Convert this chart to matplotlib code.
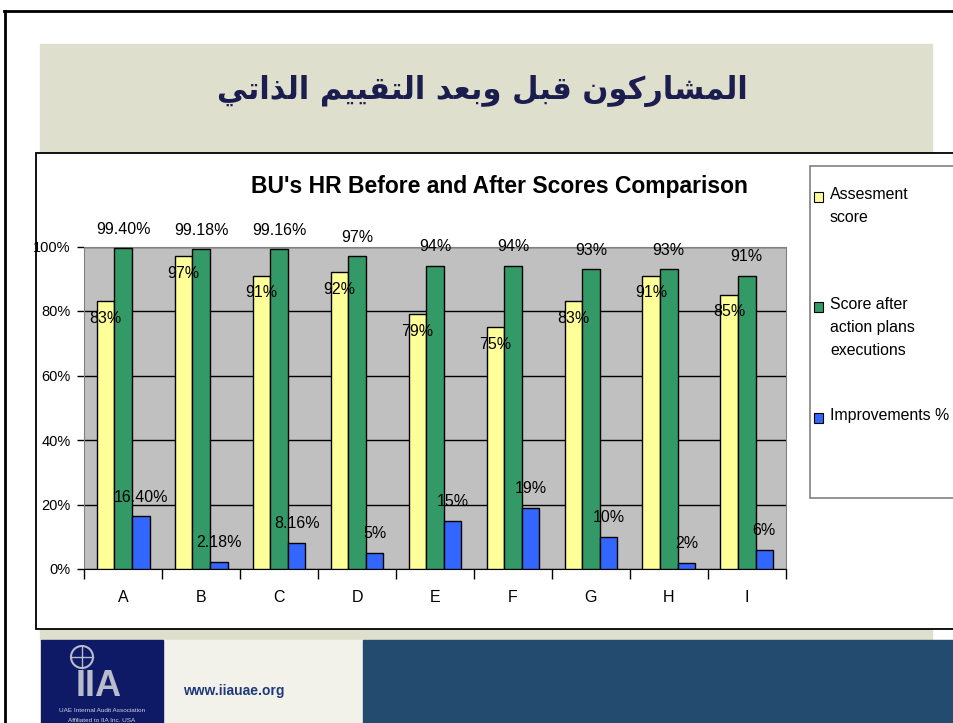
import matplotlib.pyplot as plt
from matplotlib.patches import Rectangle, Circle

# data
categories = ['A', 'B', 'C', 'D', 'E', 'F', 'G', 'H', 'I']
assessment = [83, 97, 91, 92, 79, 75, 83, 91, 85]
after_plans = [99.40, 99.18, 99.16, 97, 94, 94, 93, 93, 91]
improvements = [16.40, 2.18, 8.16, 5, 15, 19, 10, 2, 6]
series_names = ['Assesment\nscore', 'Score after\naction plans\nexecutions', 'Improvements %']
y_ticks = [0, 20, 40, 60, 80, 100]

title_ar = 'المشاركون قبل وبعد التقييم الذاتي'
chart_title = "BU's HR Before and After Scores Comparison"

colors = ['#ffff99', '#339966', '#3366ff']

# simple arabic shaping (presentation forms) since matplotlib has no shaping
FORMS = {
    'ا': ('\uFE8D', '\uFE8E', None, None),
    'ب': ('\uFE8F', '\uFE90', '\uFE91', '\uFE92'),
    'ت': ('\uFE95', '\uFE96', '\uFE97', '\uFE98'),
    'د': ('\uFEA9', '\uFEAA', None, None),
    'ذ': ('\uFEAB', '\uFEAC', None, None),
    'ر': ('\uFEAD', '\uFEAE', None, None),
    'ش': ('\uFEB5', '\uFEB6', '\uFEB7', '\uFEB8'),
    'ع': ('\uFEC9', '\uFECA', '\uFECB', '\uFECC'),
    'ق': ('\uFED5', '\uFED6', '\uFED7', '\uFED8'),
    'ك': ('\uFED9', '\uFEDA', '\uFEDB', '\uFEDC'),
    'ل': ('\uFEDD', '\uFEDE', '\uFEDF', '\uFEE0'),
    'م': ('\uFEE1', '\uFEE2', '\uFEE3', '\uFEE4'),
    'ن': ('\uFEE5', '\uFEE6', '\uFEE7', '\uFEE8'),
    'و': ('\uFEED', '\uFEEE', None, None),
    'ي': ('\uFEF1', '\uFEF2', '\uFEF3', '\uFEF4'),
}


def shape_arabic(text):
    out = []
    for i, ch in enumerate(text):
        if ch not in FORMS:
            out.append(ch)
            continue
        prev = text[i - 1] if i > 0 else None
        nxt = text[i + 1] if i + 1 < len(text) else None
        join_prev = prev in FORMS and FORMS[prev][2] is not None
        join_next = nxt in FORMS and FORMS[ch][2] is not None
        iso, fin, ini, med = FORMS[ch]
        if join_prev and join_next:
            out.append(med)
        elif join_prev:
            out.append(fin)
        elif join_next:
            out.append(ini)
        else:
            out.append(iso)
    return ''.join(out)[::-1]


plt.rcParams['font.family'] = ['Liberation Sans', 'DejaVu Sans']

W, H = 954, 723
fig = plt.figure(figsize=(W / 100, H / 100), dpi=100)

# background slide drawn in pixel coordinates
bg = fig.add_axes([0, 0, 1, 1], zorder=0)
bg.set_xlim(0, W)
bg.set_ylim(H, 0)
bg.axis('off')

bg.add_patch(Rectangle((40, 44), 892, 110, color='#dfdfcd'))
bg.add_patch(Rectangle((40, 628), 892, 12, color='#dfdfcd'))
bg.plot([4, W], [11, 11], color='black', lw=2)
bg.plot([5, 5], [11, H], color='black', lw=2)
bg.text(482, 91, shape_arabic(title_ar), ha='center', va='center',
        fontsize=22, fontweight='bold', color='#1b1d4f', family=['DejaVu Sans'])

# chart frame
bg.add_patch(Rectangle((36, 153), 930, 476, facecolor='white', edgecolor='black', lw=1.3))
bg.text(499, 187, chart_title, ha='center', va='center', fontsize=16.5, fontweight='bold')

# legend box
bg.add_patch(Rectangle((810, 166), 160, 332, facecolor='white', edgecolor='#808080', lw=1.2))
legend_y = [197, 307, 418]
for name, col, ly in zip(series_names, colors, legend_y):
    bg.add_patch(Rectangle((814, ly - 5), 9, 10, facecolor=col, edgecolor='black', lw=0.8))
    bg.text(830, ly - 10, name, ha='left', va='top', fontsize=11.4, linespacing=1.68)

# footer
bg.add_patch(Rectangle((163, 640), 200, 83, color='#f3f2ea'))
bg.add_patch(Rectangle((363, 640), 591, 83, color='#234b70'))
bg.add_patch(Rectangle((41, 640), 122, 83, color='#0e1a66'))
bg.add_patch(Circle((82, 657), 11, facecolor='none', edgecolor='#b8bccb', lw=1.5))
bg.plot([71, 93], [657, 657], color='#b8bccb', lw=1)
bg.plot([82, 82], [646, 668], color='#b8bccb', lw=1)
bg.text(99, 687, 'IIA', ha='center', va='center', fontsize=26, fontweight='bold', color='#b8bccb')
bg.text(102, 710, 'UAE Internal Audit Association', ha='center', va='center',
        fontsize=4.6, color='#d0d3e0')
bg.text(102, 720, 'Affiliated to IIA Inc. USA', ha='center', va='center',
        fontsize=4.6, color='#d0d3e0')
bg.text(183, 691, 'www.iiauae.org', ha='left', va='center', fontsize=10,
        fontweight='bold', color='#1f3a7a')

# bar chart
ax = fig.add_axes([84.3 / W, 1 - 569 / H, (785.7 - 84.3) / W, (569 - 246.5) / H], zorder=1)
ax.set_facecolor('#c0c0c0')
x = list(range(len(categories)))
width = 0.225
series = [assessment, after_plans, improvements]
offsets = [-width, 0, width]
label_offsets = [-17, 19, 19]
for vals, col, off, loff in zip(series, colors, offsets, label_offsets):
    bars = ax.bar([i + off for i in x], vals, width, color=col, edgecolor='black',
                  linewidth=1, zorder=3)
    for b, v in zip(bars, vals):
        txt = f'{v:.0f}%' if v == int(v) else f'{v:.2f}%'
        ax.annotate(txt, (b.get_x() + b.get_width() / 2, v), xytext=(0, loff),
                    textcoords='offset pixels', ha='center', va='center',
                    fontsize=11.5, zorder=4, annotation_clip=False)

ax.set_xlim(-0.5, len(categories) - 0.5)
ax.set_ylim(0, 100)
ax.set_yticks(y_ticks)
ax.set_yticklabels([f'{t}%' for t in y_ticks], fontsize=10.5)
ax.yaxis.grid(True, color='black', lw=1, zorder=1)
ax.set_axisbelow(True)
ax.set_xticks([i - 0.5 for i in range(len(categories) + 1)])
ax.set_xticklabels([])
ax.set_xticks(x, minor=True)
ax.set_xticklabels(categories, minor=True, fontsize=11.5)
ax.tick_params(axis='x', which='major', length=7, width=1, direction='out')
ax.tick_params(axis='x', which='minor', length=0, pad=15)
ax.tick_params(axis='y', length=5, width=1, direction='out', pad=5)
for s in ['top', 'right']:
    ax.spines[s].set_color('#808080')
ax.spines['left'].set_color('#808080')
ax.spines['bottom'].set_color('black')

fig.savefig('out.png', dpi=100)
